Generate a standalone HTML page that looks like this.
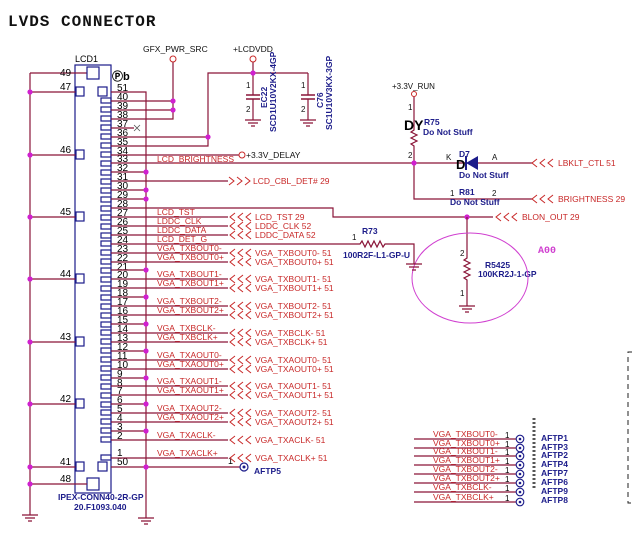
<!DOCTYPE html>
<html><head><meta charset="utf-8"><style>
html,body{margin:0;padding:0;background:#fff;}
svg{display:block;}
.w{stroke:#8a1538;stroke-width:1.2;fill:none}
.b{stroke:#1c1c8a;stroke-width:1.2;fill:none}
.pn{font:10px "Liberation Sans",sans-serif;fill:#000}
.sl{font:8.5px "Liberation Sans",sans-serif;fill:#c82828}
.bl{font:8.5px "Liberation Sans",sans-serif;fill:#111}
.nv{font:8.5px "Liberation Sans",sans-serif;fill:#1c1c8a}
.nb{font:bold 8.5px "Liberation Sans",sans-serif;fill:#1c1c8a}
</style></head><body>
<svg width="635" height="540" viewBox="0 0 635 540" xmlns="http://www.w3.org/2000/svg">
<defs>
<g id="chl"><path d="M235,-4 L230,0 L235,4 M243,-4 L238,0 L243,4 M251,-4 L246,0 L251,4" stroke="#c82828" stroke-width="1" fill="none"/></g>
<g id="gnd"><path d="M-8,0 H8 M-5,3 H5 M-2,6 H2" stroke="#8a1538" stroke-width="1.2"/></g>
<circle id="dot" r="2.6" fill="#d020d0"/>
</defs>
<text x="8" y="26" style="font:bold 16px 'Liberation Mono',monospace;letter-spacing:1px" fill="#111">LVDS CONNECTOR</text>

<rect x="75" y="65" width="36" height="428" class="b"/>
<text x="75" y="62" class="pn" style="font-size:9px">LCD1</text>
<text x="112" y="80" class="pn" style="font-size:11px;font-weight:bold">Ⓟb</text>
<text x="58" y="500" class="nb">IPEX-CONN40-2R-GP</text>
<text x="74" y="510" class="nb">20.F1093.040</text>

<path class="w" d="M30,73 V515 M30,73 H87"/>
<use href="#gnd" x="30" y="515"/>
<rect x="87" y="67" width="12" height="12" class="b"/>
<rect x="87" y="478" width="12" height="12" class="b"/>
<path class="w" d="M30,484 H87"/>
<path class="w" d="M30,92 H76 M30,155 H76 M30,217 H76 M30,279 H76 M30,342 H76 M30,404 H76 M30,467 H76"/>
<g class="b">
<rect x="76" y="87" width="8" height="9"/><rect x="76" y="150" width="8" height="9"/><rect x="76" y="212" width="8" height="9"/><rect x="76" y="274" width="8" height="9"/><rect x="76" y="337" width="8" height="9"/><rect x="76" y="399" width="8" height="9"/><rect x="76" y="462" width="8" height="9"/>
<rect x="98" y="87" width="9" height="9"/><rect x="98" y="462" width="9" height="9"/>
</g>
<g class="pn">
<text x="60" y="76">49</text><text x="60" y="90">47</text><text x="60" y="153">46</text><text x="60" y="215">45</text><text x="60" y="277">44</text><text x="60" y="340">43</text><text x="60" y="402">42</text><text x="60" y="465">41</text><text x="60" y="482">48</text>
</g>
<g><use href="#dot" x="30" y="92"/><use href="#dot" x="30" y="155"/><use href="#dot" x="30" y="217"/><use href="#dot" x="30" y="279"/><use href="#dot" x="30" y="342"/><use href="#dot" x="30" y="404"/><use href="#dot" x="30" y="467"/><use href="#dot" x="30" y="484"/></g>

<g class="b">
<rect x="101" y="98" width="10" height="5"/><rect x="101" y="107" width="10" height="5"/><rect x="101" y="116" width="10" height="5"/><rect x="101" y="125" width="10" height="5"/><rect x="101" y="134" width="10" height="5"/><rect x="101" y="143" width="10" height="5"/><rect x="101" y="152" width="10" height="5"/><rect x="101" y="161" width="10" height="5"/><rect x="101" y="170" width="10" height="5"/><rect x="101" y="179" width="10" height="5"/><rect x="101" y="188" width="10" height="5"/><rect x="101" y="197" width="10" height="5"/><rect x="101" y="206" width="10" height="5"/><rect x="101" y="215" width="10" height="5"/><rect x="101" y="224" width="10" height="5"/><rect x="101" y="233" width="10" height="5"/><rect x="101" y="241" width="10" height="5"/><rect x="101" y="250" width="10" height="5"/><rect x="101" y="259" width="10" height="5"/><rect x="101" y="268" width="10" height="5"/><rect x="101" y="277" width="10" height="5"/><rect x="101" y="286" width="10" height="5"/><rect x="101" y="295" width="10" height="5"/><rect x="101" y="304" width="10" height="5"/><rect x="101" y="313" width="10" height="5"/><rect x="101" y="322" width="10" height="5"/><rect x="101" y="330" width="10" height="5"/><rect x="101" y="339" width="10" height="5"/><rect x="101" y="348" width="10" height="5"/><rect x="101" y="357" width="10" height="5"/><rect x="101" y="366" width="10" height="5"/><rect x="101" y="375" width="10" height="5"/><rect x="101" y="384" width="10" height="5"/><rect x="101" y="393" width="10" height="5"/><rect x="101" y="402" width="10" height="5"/><rect x="101" y="410" width="10" height="5"/><rect x="101" y="419" width="10" height="5"/><rect x="101" y="428" width="10" height="5"/><rect x="101" y="437" width="10" height="5"/><rect x="101" y="455" width="10" height="5"/>
</g>

<g class="pn">
<text x="117" y="91">51</text><text x="117" y="100">40</text><text x="117" y="109">39</text><text x="117" y="118">38</text><text x="117" y="127">37</text><text x="117" y="136">36</text><text x="117" y="145">35</text><text x="117" y="154">34</text><text x="117" y="162">33</text><text x="117" y="171">32</text><text x="117" y="180">31</text><text x="117" y="189">30</text><text x="117" y="198">29</text><text x="117" y="207">28</text><text x="117" y="216">27</text><text x="117" y="225">26</text><text x="117" y="234">25</text><text x="117" y="243">24</text><text x="117" y="252">23</text><text x="117" y="261">22</text><text x="117" y="270">21</text><text x="117" y="278">20</text><text x="117" y="287">19</text><text x="117" y="296">18</text><text x="117" y="305">17</text><text x="117" y="314">16</text><text x="117" y="323">15</text><text x="117" y="332">14</text><text x="117" y="341">13</text><text x="117" y="350">12</text><text x="117" y="359">11</text><text x="117" y="368">10</text><text x="117" y="377">9</text><text x="117" y="386">8</text><text x="117" y="394">7</text><text x="117" y="403">6</text><text x="117" y="412">5</text><text x="117" y="421">4</text><text x="117" y="430">3</text><text x="117" y="439">2</text><text x="117" y="456">1</text><text x="117" y="465">50</text>
</g>

<path class="w" d="M111,92 H146 V518"/>
<use href="#gnd" x="146" y="518"/>
<path class="w" d="M111,172 H146 M111,190 H146 M111,199 H146 M111,270 H146 M111,297 H146 M111,324 H146 M111,351 H146 M111,378 H146 M111,404 H146 M111,431 H146 M111,467 H240"/>
<g><use href="#dot" x="146" y="172"/><use href="#dot" x="146" y="190"/><use href="#dot" x="146" y="199"/><use href="#dot" x="146" y="270"/><use href="#dot" x="146" y="297"/><use href="#dot" x="146" y="324"/><use href="#dot" x="146" y="351"/><use href="#dot" x="146" y="378"/><use href="#dot" x="146" y="404"/><use href="#dot" x="146" y="431"/><use href="#dot" x="146" y="467"/></g>
<circle cx="244" cy="467" r="4" fill="none" stroke="#1c1c8a" stroke-width="1.2"/><circle cx="244" cy="467" r="1.5" fill="#1c1c8a"/>
<text x="228" y="464" class="pn" style="font-size:9px">1</text>
<text x="254" y="474" class="nb">AFTP5</text>

<path class="w" d="M111,101 H173 M111,110 H173 M111,119 H173 V62"/>
<circle cx="173" cy="59" r="3" fill="#fff" stroke="#c82828"/>
<use href="#dot" x="173" y="101"/><use href="#dot" x="173" y="110"/>
<text x="143" y="52" class="bl">GFX_PWR_SRC</text>
<path class="w" d="M111,128 H134"/><path d="M134,125 l6,6 m0,-6 l-6,6" stroke="#555" stroke-width="0.8"/>
<path class="w" d="M111,137 H208 M111,146 H208 V73 H308 M253,62 V95 M253,99 V120 M308,73 V95 M308,99 V120"/>
<circle cx="253" cy="59" r="3" fill="#fff" stroke="#c82828"/>
<text x="233" y="52" class="bl">+LCDVDD</text>
<use href="#dot" x="208" y="137"/><use href="#dot" x="253" y="73"/>
<path d="M246,95 H260 M246,99 H260 M301,95 H315 M301,99 H315" stroke="#8a1538" stroke-width="1.5"/>
<use href="#gnd" x="253" y="120"/><use href="#gnd" x="308" y="120"/>
<g class="bl" style="font-size:8px"><text x="246" y="88">1</text><text x="246" y="112">2</text><text x="301" y="88">1</text><text x="301" y="112">2</text></g>
<text transform="translate(267,108) rotate(-90)" class="nb">EC22</text>
<text transform="translate(276,132) rotate(-90)" class="nb">SCD1U10V2KX-4GP</text>
<text transform="translate(323,108) rotate(-90)" class="nb">C76</text>
<text transform="translate(332,130) rotate(-90)" class="nb">SC1U10V3KX-3GP</text>

<path class="w" d="M111,155 H239"/><circle cx="242" cy="155" r="3" fill="#fff" stroke="#c82828"/>
<text x="246" y="158" class="bl">+3.3V_DELAY</text>
<path class="w" d="M111,163 H532 M111,181 H228 M111,208 H333 V217 H493"/>
<text x="157" y="162" class="sl">LCD_BRIGHTNESS</text>
<path d="M229,177 L234,181 L229,185 M237,177 L242,181 L237,185 M245,177 L250,181 L245,185" stroke="#c82828" fill="none"/>
<text x="253" y="184" class="sl">LCD_CBL_DET#  29</text>

<text x="392" y="89" class="bl" style="font-size:8px">+3.3V_RUN</text>
<circle cx="414" cy="94" r="2.5" fill="#fff" stroke="#c82828"/>
<path class="w" d="M414,97 V130 l-3,2 6,3 -6,3 6,3 -6,3 3,2 V199 H532"/>
<text x="404" y="130" style="font:bold 14px 'Liberation Sans',sans-serif">DY</text>
<text x="424" y="125" class="nb">R75</text>
<text x="423" y="135" class="nb">Do Not Stuff</text>
<g class="bl" style="font-size:8px"><text x="408" y="110">1</text><text x="408" y="158">2</text></g>
<use href="#dot" x="414" y="163"/>
<text x="459" y="157" class="nb">D7</text>
<text x="446" y="160" class="bl" style="font-size:8px">K</text><text x="492" y="160" class="bl" style="font-size:8px">A</text>
<path d="M466,163 L478,156 V170 Z" fill="#1c1c8a"/><path d="M466,156 V170" stroke="#1c1c8a" stroke-width="2"/>
<text x="456" y="169" style="font:bold 13px 'Liberation Sans',sans-serif">D</text>
<text x="459" y="178" class="nb">Do Not Stuff</text>
<text x="450" y="196" class="bl" style="font-size:8px">1</text><text x="459" y="195" class="nb">R81</text><text x="492" y="196" class="bl" style="font-size:8px">2</text>
<text x="450" y="205" class="nb">Do Not Stuff</text>
<g transform="translate(302,0)"><use href="#chl" y="163"/><use href="#chl" y="199"/></g>
<text x="558" y="166" class="sl">LBKLT_CTL  51</text>
<text x="558" y="202" class="sl">BRIGHTNESS   29</text>
<g transform="translate(266,0)"><use href="#chl" y="217"/></g>
<text x="522" y="220" class="sl">BLON_OUT  29</text>
<use href="#dot" x="467" y="217"/>
<path class="w" d="M467,217 V258 l-3,2 6,3 -6,3 6,3 -6,3 6,3 -6,3 3,2 V306"/>
<use href="#gnd" x="467" y="306"/>
<g class="bl" style="font-size:8px"><text x="460" y="256">2</text><text x="460" y="296">1</text></g>
<text x="485" y="268" class="nb">R5425</text><text x="478" y="277" class="nb">100KR2J-1-GP</text>
<ellipse cx="470" cy="278" rx="58" ry="45" fill="none" stroke="#d040d0" stroke-width="1"/>
<text x="538" y="253" style="font:bold 10px 'Liberation Mono',monospace" fill="#d040d0">A00</text>

<path class="w" d="M111,244 H360 l2,-3 3,6 3,-6 3,6 3,-6 3,6 3,-6 3,6 2,-3 H414 V264"/>
<use href="#gnd" x="414" y="264"/>
<text x="352" y="240" class="bl" style="font-size:8px">1</text>
<text x="362" y="234" class="nb">R73</text>
<text x="343" y="258" class="nb">100R2F-L1-GP-U</text>

<path class="w" d="M111,217 H228 M111,226 H228 M111,235 H228 M111,253 H228 M111,262 H228 M111,279 H228 M111,288 H228 M111,306 H228 M111,315 H228 M111,333 H228 M111,342 H228 M111,360 H228 M111,369 H228 M111,386 H228 M111,395 H228 M111,413 H228 M111,422 H228 M111,440 H228 M111,458 H228"/>
<g>
<use href="#chl" y="217"/><use href="#chl" y="226"/><use href="#chl" y="235"/><use href="#chl" y="253"/><use href="#chl" y="262"/><use href="#chl" y="279"/><use href="#chl" y="288"/><use href="#chl" y="306"/><use href="#chl" y="315"/><use href="#chl" y="333"/><use href="#chl" y="342"/><use href="#chl" y="360"/><use href="#chl" y="369"/><use href="#chl" y="386"/><use href="#chl" y="395"/><use href="#chl" y="413"/><use href="#chl" y="422"/><use href="#chl" y="440"/><use href="#chl" y="458"/>
</g>
<g class="sl">
<text x="157" y="215">LCD_TST</text><text x="157" y="224">LDDC_CLK</text><text x="157" y="233">LDDC_DATA</text><text x="157" y="242">LCD_DET_G</text>
<text x="157" y="251">VGA_TXBOUT0-</text><text x="157" y="260">VGA_TXBOUT0+</text>
<text x="157" y="277">VGA_TXBOUT1-</text><text x="157" y="286">VGA_TXBOUT1+</text>
<text x="157" y="304">VGA_TXBOUT2-</text><text x="157" y="313">VGA_TXBOUT2+</text>
<text x="157" y="331">VGA_TXBCLK-</text><text x="157" y="340">VGA_TXBCLK+</text>
<text x="157" y="358">VGA_TXAOUT0-</text><text x="157" y="367">VGA_TXAOUT0+</text>
<text x="157" y="384">VGA_TXAOUT1-</text><text x="157" y="393">VGA_TXAOUT1+</text>
<text x="157" y="411">VGA_TXAOUT2-</text><text x="157" y="420">VGA_TXAOUT2+</text>
<text x="157" y="438">VGA_TXACLK-</text><text x="157" y="456">VGA_TXACLK+</text>
</g>
<g class="sl">
<text x="255" y="220">LCD_TST  29</text><text x="255" y="229">LDDC_CLK   52</text><text x="255" y="238">LDDC_DATA   52</text>
<text x="255" y="256">VGA_TXBOUT0-  51</text><text x="255" y="265">VGA_TXBOUT0+  51</text>
<text x="255" y="282">VGA_TXBOUT1-  51</text><text x="255" y="291">VGA_TXBOUT1+  51</text>
<text x="255" y="309">VGA_TXBOUT2-  51</text><text x="255" y="318">VGA_TXBOUT2+  51</text>
<text x="255" y="336">VGA_TXBCLK-  51</text><text x="255" y="345">VGA_TXBCLK+  51</text>
<text x="255" y="363">VGA_TXAOUT0-  51</text><text x="255" y="372">VGA_TXAOUT0+  51</text>
<text x="255" y="389">VGA_TXAOUT1-  51</text><text x="255" y="398">VGA_TXAOUT1+  51</text>
<text x="255" y="416">VGA_TXAOUT2-  51</text><text x="255" y="425">VGA_TXAOUT2+  51</text>
<text x="255" y="443">VGA_TXACLK-  51</text><text x="255" y="461">VGA_TXACLK+  51</text>
</g>

<path class="w" d="M414,439 H516 M414,448 H516 M414,456 H516 M414,465 H516 M414,474 H516 M414,483 H516 M414,492 H516 M414,502 H516"/>
<g class="sl">
<text x="433" y="437">VGA_TXBOUT0-</text><text x="433" y="446">VGA_TXBOUT0+</text><text x="433" y="454">VGA_TXBOUT1-</text><text x="433" y="463">VGA_TXBOUT1+</text><text x="433" y="472">VGA_TXBOUT2-</text><text x="433" y="481">VGA_TXBOUT2+</text><text x="433" y="490">VGA_TXBCLK-</text><text x="433" y="500">VGA_TXBCLK+</text>
</g>
<g class="pn" style="font-size:8px">
<text x="505" y="438">1</text><text x="505" y="447">1</text><text x="505" y="455">1</text><text x="505" y="464">1</text><text x="505" y="473">1</text><text x="505" y="482">1</text><text x="505" y="491">1</text><text x="505" y="501">1</text>
</g>
<g fill="none" stroke="#1c1c8a" stroke-width="1.1">
<circle cx="520" cy="439" r="3.8"/><circle cx="520" cy="448" r="3.8"/><circle cx="520" cy="456" r="3.8"/><circle cx="520" cy="465" r="3.8"/><circle cx="520" cy="474" r="3.8"/><circle cx="520" cy="483" r="3.8"/><circle cx="520" cy="492" r="3.8"/><circle cx="520" cy="502" r="3.8"/>
</g>
<g fill="#1c1c8a"><circle cx="520" cy="439" r="1.3"/><circle cx="520" cy="448" r="1.3"/><circle cx="520" cy="456" r="1.3"/><circle cx="520" cy="465" r="1.3"/><circle cx="520" cy="474" r="1.3"/><circle cx="520" cy="483" r="1.3"/><circle cx="520" cy="492" r="1.3"/><circle cx="520" cy="502" r="1.3"/></g>
<g class="nb">
<text x="541" y="441">AFTP1</text><text x="541" y="450">AFTP3</text><text x="541" y="458">AFTP2</text><text x="541" y="467">AFTP4</text><text x="541" y="476">AFTP7</text><text x="541" y="485">AFTP6</text><text x="541" y="494">AFTP9</text><text x="541" y="503">AFTP8</text>
</g>
<path d="M534,418 V490" stroke="#555" stroke-width="3" stroke-dasharray="2,2"/>

<path d="M632,352 H628 V503 H632" fill="none" stroke="#222" stroke-width="1" stroke-dasharray="5,4"/>
</svg>
</body></html>
